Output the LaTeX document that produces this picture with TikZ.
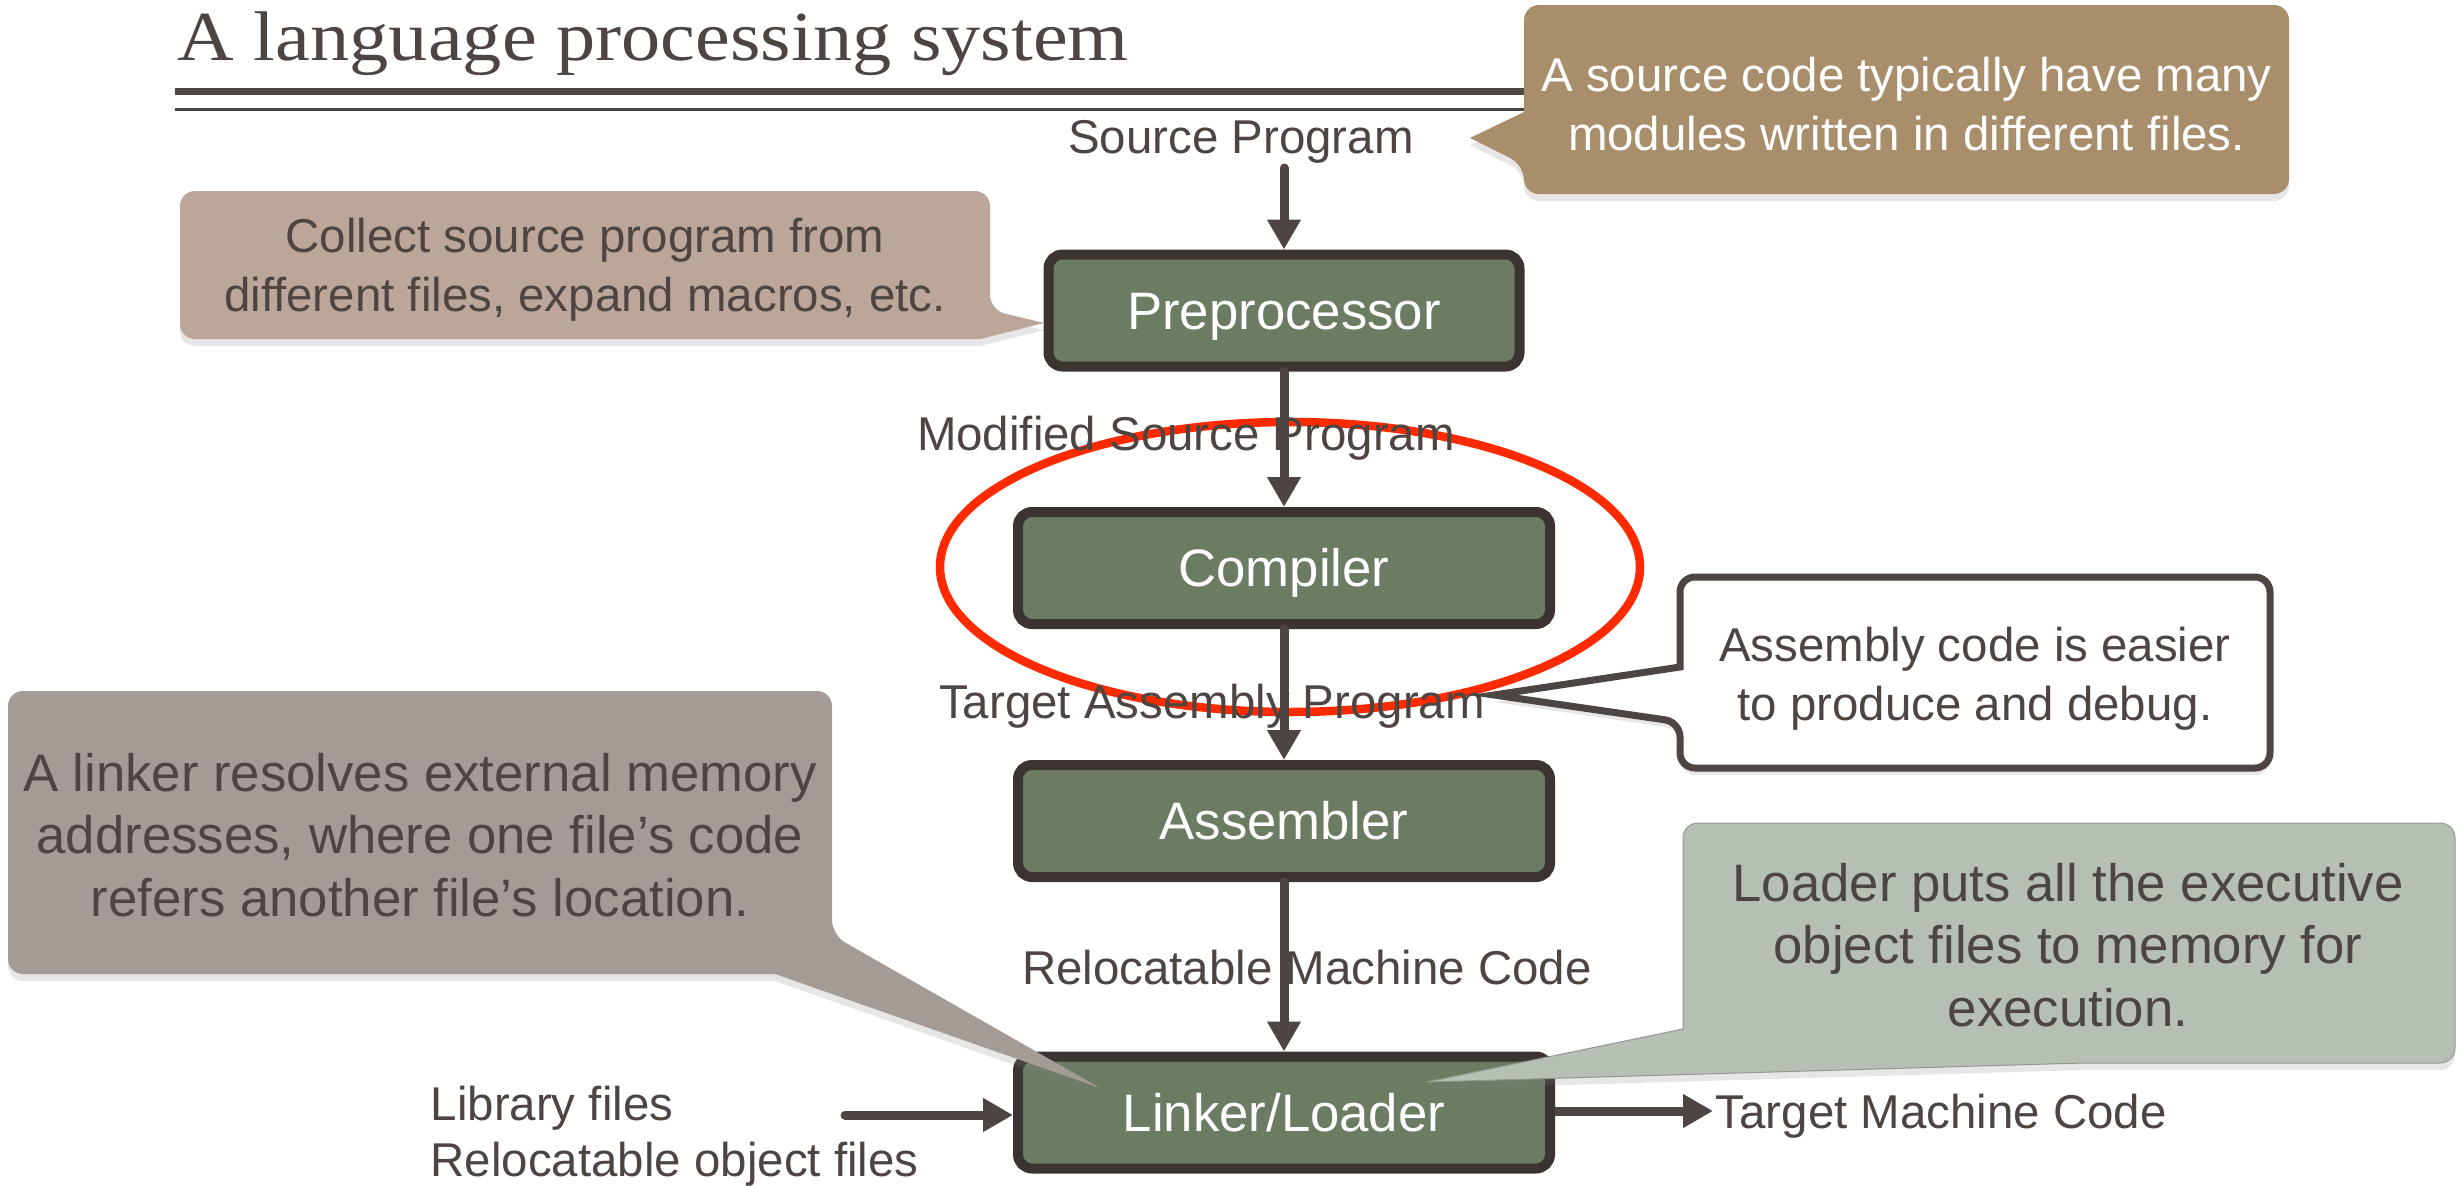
\documentclass[tikz,border=0pt]{standalone}
\usepackage{fontspec}
\usetikzlibrary{arrows.meta,shapes.geometric,shadows}
\newfontfamily\helv{Liberation Sans}
\newfontfamily\titleserif{Liberation Serif}
\definecolor{ink}{HTML}{4D4542}
\definecolor{boxfill}{HTML}{6B7C63}
\definecolor{boxline}{HTML}{3B3430}
\definecolor{tanedge}{HTML}{A88E6B}
\definecolor{tanmid}{HTML}{B69C76}
\definecolor{pinkedge}{HTML}{BCA69A}
\definecolor{pinkmid}{HTML}{CCBAAE}
\definecolor{grayedge}{HTML}{A39B96}
\definecolor{graymid}{HTML}{B6AFAA}
\definecolor{sage}{HTML}{B5BFB3}
\definecolor{ringred}{HTML}{FF2A00}
\begin{document}
\begin{tikzpicture}[stage/.style = {draw=boxline, fill=boxfill, line width=0.1cm, rounded corners=0.14cm, minimum width=5.32cm, minimum height=1.12cm, text=white, text height=11.2pt, text depth=0.5pt, font=\helv\fontsize{15}{18}\selectfont},
    lbl/.style = {text=ink, font=\helv\fontsize{13.5}{16.6}\selectfont, text height=10.1pt, text depth=0.4pt, inner sep=0.05cm},
    note/.style = {rounded corners=0.15cm, drop shadow={opacity=0.2, shadow xshift=0pt, shadow yshift=-2pt}},
    notetext/.style = {text=ink, align=center, font=\helv\fontsize{13.5}{16.8}\selectfont},
    bignotetext/.style = {text=ink, align=center, font=\helv\fontsize{15}{17.7}\selectfont},
    flow/.style = {draw=ink, line width=0.09cm, line cap=round, -{Triangle[length=0.30cm, width=0.32cm]}}]
    \useasboundingbox (0,0) rectangle (24.58,11.85);
    % title and rules
    \node[anchor=base west, text=ink, inner sep=0, font=\titleserif\fontsize{20}{24}\selectfont] (title) at (1.77,11.25) {\scalebox{1.115}[1]{A language processing system}};
    \draw[ink, line width=0.07cm] (1.75,10.935) -- (15.6,10.935);
    \draw[ink, line width=0.03cm] (1.75,10.76) -- (15.6,10.76);
    \node[ellipse, draw=ringred, line width=0.085cm, minimum width=7.0cm, minimum height=2.9cm, inner sep=0] (ring) at (12.90,6.18) {};
    \node[lbl] (src) at (12.41,10.49) {Source Program};
    \node[lbl] (mod) at (11.86,7.52) {Modified Source Program};
    \node[lbl] (tgt) at (12.12,4.84) {Target Assembly Program};
    \node[lbl] (reloc) at (13.07,2.18) {Relocatable Machine Code};
    \node[lbl, anchor=west] (lib) at (4.25,0.82) {Library files};
    \node[lbl, anchor=west] (obj) at (4.25,0.26) {Relocatable object files};
    \node[lbl, anchor=west, inner sep=0.02cm] (out) at (17.13,0.74) {Target Machine Code};
    \node[stage, minimum width=4.71cm] (pre) at (12.84,8.745) {Preprocessor};
    \node[stage] (comp) at (12.84,6.17) {Compiler};
    \node[stage] (asm) at (12.84,3.64) {Assembler};
    \node[stage] (link) at (12.84,0.725) {Linker/Loader};
    \coordinate (srcin) at (12.84,10.17);
    \coordinate (libin) at (8.45,0.70);
    \draw[flow] (srcin) -- (pre);
    \draw[flow] (pre) -- (comp);
    \draw[flow] (comp) -- (asm);
    \draw[flow] (asm) -- (link);
    \draw[flow] (libin) -- (libin -| link.west);
    \draw[flow, line cap=butt] (link.east |- out.west) -- (out.west);
    % callouts
    \coordinate (srctip) at (14.70,10.47);
    \coordinate (pretip) at (10.44,8.62);
    \coordinate (asmtip) at (14.94,4.90);
    \coordinate (linktip) at (11.00,0.97);
    \coordinate (loadtip) at (14.27,1.03);
    \path[note, left color=tanedge, middle color=tanmid, right color=tanedge] (15.24,11.80) -- (22.89,11.80) -- (22.89,9.91) -- (15.24,9.91) -- (15.24,10.20) [sharp corners] -- (srctip) -- (15.24,10.73) [rounded corners=0.15cm] -- cycle;
    \node[notetext, text=white] (srcnote) at (19.065,10.81) {A source code typically have many\\modules written in different files.};
    \path[note, left color=pinkedge, middle color=pinkmid, right color=pinkedge] (1.80,9.94) -- (9.90,9.94) -- (9.90,8.75) [sharp corners] -- (pretip) -- (9.80,8.46) [rounded corners=0.15cm] -- (1.80,8.46) -- cycle;
    \node[notetext] (prenote) at (5.85,9.15) {Collect source program from\\different files, expand macros, etc.};
    \draw[note, draw=ink, line width=0.07cm, fill=white] (16.80,6.08) -- (22.70,6.08) -- (22.70,4.17) -- (16.80,4.17) -- (16.80,4.63) [sharp corners] -- (asmtip) -- (16.80,5.18) [rounded corners=0.15cm] -- cycle;
    \node[notetext] (asmnote) at (19.75,5.06) {Assembly code is easier\\to produce and debug.};
    \path[note, left color=grayedge, middle color=graymid, right color=grayedge] (0.08,4.94) -- (8.32,4.94) -- (8.32,2.50) [sharp corners] -- (linktip) -- (7.75,2.11) [rounded corners=0.15cm] -- (0.08,2.11) -- cycle;
    \node[bignotetext] (linknote) at (4.20,3.50) {A linker resolves external memory\\addresses, where one file’s code\\refers another file’s location.};
    \path[note, fill=sage, draw=sage!80!black, line width=0.01cm] (16.83,3.62) -- (24.55,3.62) -- (24.55,1.22) -- (20.83,1.22) [sharp corners] -- (loadtip) -- (16.83,1.56) [rounded corners=0.15cm] -- cycle;
    \node[bignotetext] (loadnote) at (20.68,2.40) {Loader puts all the executive\\object files to memory for\\execution.};
    \end{tikzpicture}
\end{document}
